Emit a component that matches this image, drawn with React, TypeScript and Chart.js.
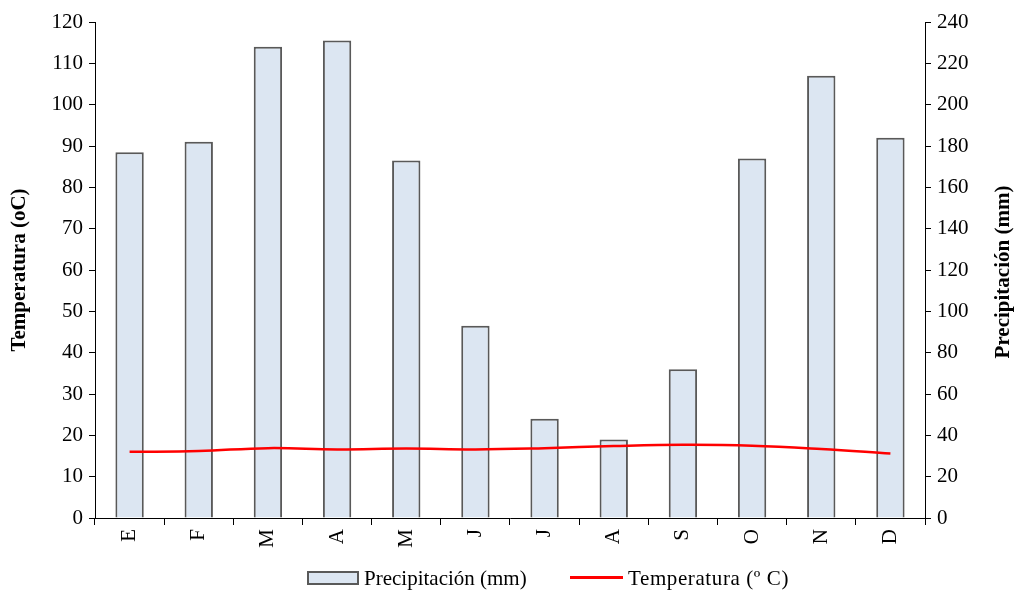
import React, { useEffect, useRef } from 'react';
import { Chart, registerables } from 'chart.js';
Chart.register(...registerables);

const months = ['E', 'F', 'M', 'A', 'M', 'J', 'J', 'A', 'S', 'O', 'N', 'D'];
const precipitation = [177, 182, 228, 231, 173, 93, 48, 38, 72, 174, 214, 184];
const temperature = [16.0, 16.2, 16.9, 16.6, 16.8, 16.6, 16.9, 17.4, 17.7, 17.5, 16.7, 15.6];
const precipLabel = 'Precipitación (mm)';
const tempLabel = 'Temperatura (º C)';
const leftTitle = 'Temperatura (oC)';
const rightTitle = 'Precipitación (mm)';

const FONT = "'Liberation Serif', 'Times New Roman', serif";
const BAR_FILL = '#dce6f2';
const BAR_BORDER = '#595959';

const rightTitlePlugin = {
  id: 'rightTitle',
  afterDraw(chart: any) {
    const ctx = chart.ctx;
    const area = chart.chartArea;
    ctx.save();
    ctx.translate(1004, (area.top + area.bottom) / 2 + 2);
    ctx.rotate(-Math.PI / 2);
    ctx.font = `bold 21px ${FONT}`;
    ctx.fillStyle = '#000';
    ctx.textAlign = 'center';
    ctx.textBaseline = 'middle';
    ctx.fillText(rightTitle, 0, 0);
    ctx.restore();
  },
};

export default function App() {
  const ref = useRef<HTMLCanvasElement | null>(null);
  useEffect(() => {
    if (!ref.current) return;
    const chart = new Chart(ref.current, {
      type: 'bar',
      data: {
        labels: months,
        datasets: [
          {
            type: 'line',
            label: tempLabel,
            data: temperature,
            yAxisID: 'yT',
            borderColor: '#ff0000',
            backgroundColor: '#ff0000',
            borderWidth: 2.5,
            pointRadius: 0,
            tension: 0.4,
            order: 0,
          } as any,
          {
            type: 'bar',
            label: precipLabel,
            data: precipitation,
            yAxisID: 'yP',
            backgroundColor: BAR_FILL,
            borderColor: BAR_BORDER,
            borderWidth: 2,
            categoryPercentage: 1,
            barPercentage: 0.41,
            order: 1,
          },
        ],
      },
      options: {
        responsive: false,
        animation: false,
        layout: { padding: { top: 22, bottom: 45, left: 0, right: 0 } },
        plugins: { legend: { display: false }, tooltip: { enabled: false } },
        scales: {
          x: {
            afterFit: (s: any) => { s.height = 30; },
            grid: { display: true, drawOnChartArea: false, drawTicks: true, tickLength: 7, color: '#000', offset: true },
            border: { display: true, color: '#000', width: 1 },
            ticks: {
              autoSkip: false, maxRotation: 90, minRotation: 90, color: '#000', padding: 4,
              font: { family: FONT, size: 21 },
            },
          },
          yT: {
            position: 'left',
            min: 0, max: 120,
            afterFit: (s: any) => { s.width = 95; },
            grid: { display: true, drawOnChartArea: false, drawTicks: true, tickLength: 6, color: '#000' },
            border: { display: true, color: '#000', width: 1 },
            ticks: { stepSize: 10, color: '#000', padding: 6, font: { family: FONT, size: 21 } },
            title: { display: true, text: leftTitle, color: '#000', padding: { top: 7, bottom: 0 }, font: { family: FONT, size: 21, weight: 'bold' } },
          },
          yP: {
            position: 'right',
            min: 0, max: 240,
            afterFit: (s: any) => { s.width = 94; },
            grid: { display: true, drawOnChartArea: false, drawTicks: true, tickLength: 6, color: '#000' },
            border: { display: true, color: '#000', width: 1 },
            ticks: { stepSize: 20, color: '#000', padding: 6, font: { family: FONT, size: 21 } },
            title: { display: false },
          },
        },
      } as any,
      plugins: [rightTitlePlugin],
    });
    return () => chart.destroy();
  }, []);

  const legendText: React.CSSProperties = {
    position: 'absolute', top: 565, height: 26, lineHeight: '26px',
    fontFamily: FONT, fontSize: 21, color: '#000', whiteSpace: 'nowrap',
  };

  return (
    <div style={{ position: 'absolute', left: 0, top: 0, width: 1019, height: 593, background: '#fff' }}>
      <canvas ref={ref} width={1019} height={593} style={{ display: 'block' }} />
      <span style={{ position: 'absolute', left: 307, top: 571, width: 48, height: 10, background: BAR_FILL, border: `2px solid ${BAR_BORDER}` }} />
      <span style={{ ...legendText, left: 364 }}>{precipLabel}</span>
      <span style={{ position: 'absolute', left: 570, top: 576, width: 53, height: 3, background: '#ff0000' }} />
      <span style={{ ...legendText, left: 628, letterSpacing: '0.6px' }}>{tempLabel}</span>
    </div>
  );
}
